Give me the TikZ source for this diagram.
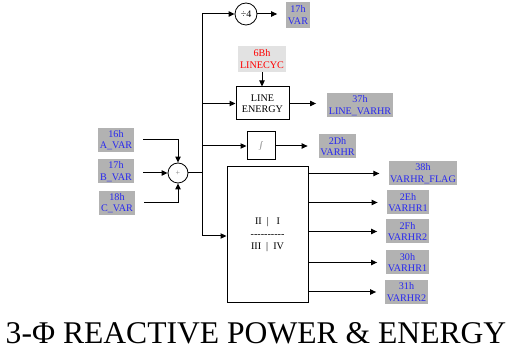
\documentclass[tikz,border=0pt]{standalone}
\usepackage{fontspec}
\setmainfont{Liberation Serif}
\usetikzlibrary{arrows.meta}
\definecolor{regblue}{RGB}{40,40,240}
\definecolor{reggray}{RGB}{178,178,178}
\definecolor{cycgray}{RGB}{226,226,226}
\begin{document}
\begin{tikzpicture}[x=0.75pt,y=-0.75pt,line width=0.75pt,
  >={Triangle[length=4.5pt,width=4pt]},
  reg/.style={fill=reggray,text=regblue,font=\fontsize{7.6}{8.6}\selectfont,
    align=center,inner xsep=1.2pt,inner ysep=0pt,minimum height=18pt},
  blk/.style={draw,font=\fontsize{7.6}{8.6}\selectfont,align=center,inner sep=0pt},
  op/.style={draw,circle,line width=0.6pt,inner sep=0pt}]
\useasboundingbox (0,0) rectangle (510,352);
\node[reg] (avar) at (116,140) {16h\\A\_VAR};
\node[reg] (bvar) at (116,171.5) {17h\\B\_VAR};
\node[reg] (cvar) at (117,203) {18h\\C\_VAR};
\node[op,minimum size=15pt,font=\fontsize{6}{6}\selectfont,text=gray] (sum) at (178,173) {+};
\node[op,minimum size=16.5pt,font=\fontsize{7.5}{8}\selectfont] (div) at (246,14) {÷4};
\node[reg,minimum height=19.5pt] (var) at (298,15) {17h\\VAR};
\node[reg,fill=cycgray,text=red,minimum height=19.5pt] (cyc) at (262,59) {6Bh\\LINECYC};
\node[blk,minimum width=39.75pt,minimum height=24.75pt] (le) at (262.5,103.5) {LINE\\ENERGY};
\node[reg] (lvarhr) at (360,105.5) {37h\\LINE\_VARHR};
\node[blk,minimum size=21pt,text=gray!70!black] (integ) at (261,146) {\scalebox{0.6}{$\int$}};
\node[reg] (varhr) at (337.5,146.5) {2Dh\\VARHR};
\node[blk,minimum width=60.75pt,minimum height=102pt,font=\fontsize{7.6}{9.4}\selectfont] (big) at (267.5,235)
  {II~~|~~~I\\{-}{-}{-}{-}{-}{-}{-}{-}{-}{-}\\III~~|~~IV};
\node[reg] (flag) at (423,173.5) {38h\\VARHR\_FLAG};
\node[reg] (eh) at (408,202.5) {2Eh\\VARHR1};
\node[reg] (fh) at (407.5,231.5) {2Fh\\VARHR2};
\node[reg] (zh) at (407.5,262.5) {30h\\VARHR1};
\node[reg] (oh) at (406.5,292) {31h\\VARHR2};
\node[anchor=base,font=\fontsize{23.7}{28}\selectfont] (title) at (256,344) {3-Φ REACTIVE POWER \& ENERGY};
\coordinate (bustop) at (202,14);
\coordinate (busbot) at (202,236);
\draw[->,shorten <=6.75pt] (avar) -| (sum);
\draw[->,shorten <=6.75pt] (bvar.east |- sum) -- (sum);
\draw[->,shorten <=6.75pt] (cvar) -| (sum);
\draw (sum) -- (sum -| bustop);
\draw (bustop) -- (busbot);
\draw[->] (bustop) -- (div);
\draw[->] (bustop |- le) -- (le);
\draw[->] (bustop |- integ) -- (integ);
\draw[->] (busbot) -- (big.west |- busbot);
\draw[->,shorten >=6.5pt] (div) -- (div -| var.west);
\draw[->] (cyc) -- (cyc |- le.north);
\draw[->,shorten >=8pt] (le) -- (le -| lvarhr.west);
\draw[->,shorten >=8pt] (integ) -- (integ -| varhr.west);
\foreach \r in {flag,eh,fh,zh,oh}
  \draw[->,shorten >=6.5pt] (big.east |- \r) -- (\r.west);
\end{tikzpicture}
\end{document}
